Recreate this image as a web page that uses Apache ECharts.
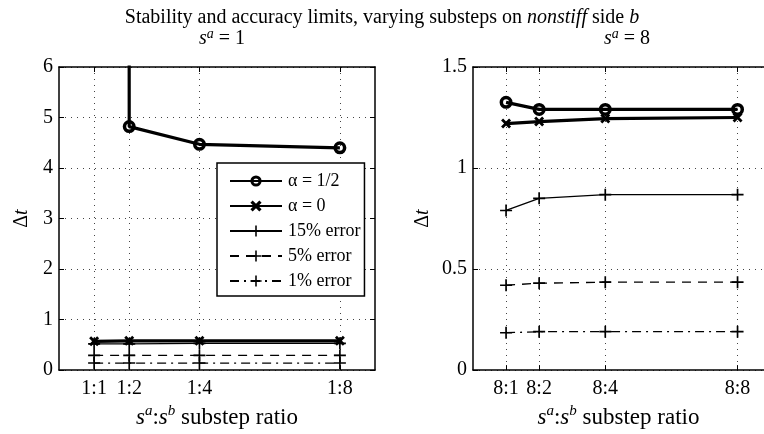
<!DOCTYPE html>
<html>
<head>
<meta charset="utf-8">
<title>Stability and accuracy limits</title>
<script src="https://cdn.jsdelivr.net/npm/echarts@6/dist/echarts.min.js"></script>
<style>
  html, body { margin: 0; padding: 0; background: #fff; }
</style>
</head>
<body>
<div id="main" style="width:764px;height:434px;"></div>
<script type="text/javascript">
// substep counts on side b (x positions) and tick labels
var substeps = [1, 2, 4, 8];
var leftLabels = ['1:1', '1:2', '1:4', '1:8'];
var rightLabels = ['8:1', '8:2', '8:4', '8:8'];

// s^a = 1 (left panel); first alpha=1/2 point is off the chart (unstable)
var leftHalf = [1000, 4.82, 4.47, 4.40];
var leftZero = [0.57, 0.58, 0.58, 0.58];
var leftErr15 = [0.52, 0.52, 0.53, 0.53];
var leftErr5 = [0.29, 0.29, 0.29, 0.29];
var leftErr1 = [0.14, 0.14, 0.14, 0.14];

// s^a = 8 (right panel)
var rightHalf = [1.325, 1.29, 1.29, 1.29];
var rightZero = [1.22, 1.23, 1.245, 1.25];
var rightErr15 = [0.79, 0.85, 0.868, 0.868];
var rightErr5 = [0.42, 0.43, 0.435, 0.435];
var rightErr1 = [0.185, 0.19, 0.19, 0.19];

var legendNames = ['\u03b1 = 1/2', '\u03b1 = 0', '15% error', '5% error', '1% error'];

var serif = 'Liberation Serif';
var plusPath = 'path://M4.3,0 H5.7 V4.3 H10 V5.7 H5.7 V10 H4.3 V5.7 H0 V4.3 H4.3 Z';
var crossPath = 'path://M0,2 L2,0 L5,3 L8,0 L10,2 L7,5 L10,8 L8,10 L5,7 L2,10 L0,8 L3,5 Z';
// thick ring with a small hole (line shows through)
var ringPath = 'path://M5,0 A5,5 0 1,1 5,10 A5,5 0 1,1 5,0 Z M5,2.7 A2.3,2.3 0 1,0 5,7.3 A2.3,2.3 0 1,0 5,2.7 Z';

function pairs(vals) {
    var out = [];
    for (var i = 0; i < substeps.length; i++) out.push([substeps[i], vals[i]]);
    return out;
}

function makeSeries(idx, sets) {
    var styles = [
        { symbol: ringPath, size: 13, width: 3.2, type: 'solid' },
        { symbol: crossPath, size: 10, width: 3.2, type: 'solid' },
        { symbol: plusPath, size: 12, width: 1.3, type: 'solid' },
        { symbol: plusPath, size: 12, width: 1.3, type: [9, 7] },
        { symbol: plusPath, size: 12, width: 1.3, type: [9, 5, 2, 5] }
    ];
    return sets.map(function (vals, k) {
        var s = styles[k];
        return {
            name: legendNames[k],
            type: 'line',
            xAxisIndex: idx,
            yAxisIndex: idx,
            data: pairs(vals),
            symbol: s.symbol,
            symbolSize: s.size,
            showAllSymbol: true,
            clip: true,
            z: 10 - k,
            lineStyle: { color: '#000', width: s.width, type: s.type },
            itemStyle: { color: '#000', borderWidth: 0 }
        };
    });
}

var lineBlack = { color: '#000', width: 1.5 };
var dotted = { color: '#444', type: [1, 5], width: 1 };
var nameRich = {
    i: { fontFamily: serif, fontStyle: 'italic', fontSize: 23, color: '#000' },
    sup: { fontFamily: serif, fontStyle: 'italic', fontSize: 15, color: '#000', padding: [0, 0, 12, 0] }
};

function xAxis(idx, max, labels) {
    return {
        type: 'value', gridIndex: idx, min: 0, max: max,
        name: '{i|s}{sup|a}:{i|s}{sup|b} substep ratio',
        nameLocation: 'middle', nameGap: 33,
        nameTextStyle: { fontFamily: serif, fontSize: 23, color: '#000', rich: nameRich },
        axisLine: { show: true, lineStyle: lineBlack },
        axisTick: { show: true, inside: true, length: 5, customValues: substeps, lineStyle: { color: '#000' } },
        axisLabel: {
            customValues: substeps, margin: 9, fontFamily: serif, fontSize: 20, color: '#000',
            formatter: function (v) { return labels[substeps.indexOf(v)]; }
        },
        splitLine: { show: true, lineStyle: dotted }
    };
}

// mirror axis on top of a panel (box frame with inward ticks)
function xTop(idx, max) {
    return {
        type: 'value', gridIndex: idx, min: 0, max: max, position: 'top',
        axisLine: { show: true, onZero: false, lineStyle: lineBlack },
        axisTick: { show: true, inside: true, length: 5, customValues: substeps, lineStyle: { color: '#000' } },
        axisLabel: { show: false },
        splitLine: { show: false }
    };
}

function yAxis(idx, max, interval, gap) {
    return {
        type: 'value', gridIndex: idx, min: 0, max: max, interval: interval,
        name: '\u0394{i|t}', nameLocation: 'middle', nameGap: gap, nameRotate: 90,
        nameTextStyle: {
            fontFamily: serif, fontSize: 20, color: '#000',
            rich: { i: { fontFamily: serif, fontStyle: 'italic', fontSize: 20, color: '#000' } }
        },
        axisLine: { show: true, lineStyle: lineBlack },
        axisTick: { show: true, inside: true, length: 5, lineStyle: { color: '#000' } },
        axisLabel: { margin: 6, fontFamily: serif, fontSize: 20, color: '#000' },
        splitLine: { show: true, lineStyle: dotted }
    };
}

function yRight(idx, max, interval) {
    return {
        type: 'value', gridIndex: idx, min: 0, max: max, interval: interval, position: 'right',
        axisLine: { show: true, onZero: false, lineStyle: lineBlack },
        axisTick: { show: true, inside: true, length: 5, lineStyle: { color: '#000' } },
        axisLabel: { show: false },
        splitLine: { show: false }
    };
}

var myChart = echarts.init(document.getElementById('main'));

var subRich = {
    i: { fontFamily: serif, fontStyle: 'italic', fontSize: 20, fontWeight: 'normal', color: '#000' },
    sup: { fontFamily: serif, fontStyle: 'italic', fontSize: 14, fontWeight: 'normal', color: '#000', padding: [0, 0, 10, 0] },
    n: { fontFamily: serif, fontSize: 20, fontWeight: 'normal', color: '#000' }
};

var option = {
    backgroundColor: '#fff',
    animation: false,
    title: [
        {
            text: 'Stability and accuracy limits, varying substeps on {i|nonstiff} side {i|b}',
            left: 'center', top: 3,
            textStyle: {
                fontFamily: serif, fontSize: 20, fontWeight: 'normal', color: '#000',
                rich: { i: { fontFamily: serif, fontStyle: 'italic', fontSize: 20, color: '#000' } }
            }
        },
        {
            text: '{i|s}{sup|a}{n| = 1}', left: 217, top: 22, textAlign: 'center',
            textStyle: { fontWeight: 'normal', rich: subRich }
        },
        {
            text: '{i|s}{sup|a}{n| = 8}', left: 622, top: 22, textAlign: 'center',
            textStyle: { fontWeight: 'normal', rich: subRich }
        }
    ],
    legend: {
        data: legendNames,
        orient: 'vertical',
        left: 217, top: 163,
        padding: [9, 4, 6, 12],
        itemGap: 7,
        itemWidth: 52,
        itemHeight: 14,
        borderColor: '#000', borderWidth: 1.5,
        backgroundColor: '#fff',
        selectedMode: false,
        textStyle: { fontFamily: serif, fontSize: 18, color: '#000', padding: [0, 0, 0, 1] }
    },
    grid: [
        { left: 59, top: 67, width: 316, height: 305 },
        { left: 473, top: 67, right: 0, height: 305 }
    ],
    xAxis: [xAxis(0, 9, leftLabels), xAxis(1, 8.8, rightLabels), xTop(0, 9), xTop(1, 8.8)],
    yAxis: [yAxis(0, 6, 1, 27), yAxis(1, 1.5, 0.5, 40), yRight(0, 6, 1)],
    series: makeSeries(0, [leftHalf, leftZero, leftErr15, leftErr5, leftErr1])
        .concat(makeSeries(1, [rightHalf, rightZero, rightErr15, rightErr5, rightErr1]))
};

myChart.setOption(option);
</script>
</body>
</html>
